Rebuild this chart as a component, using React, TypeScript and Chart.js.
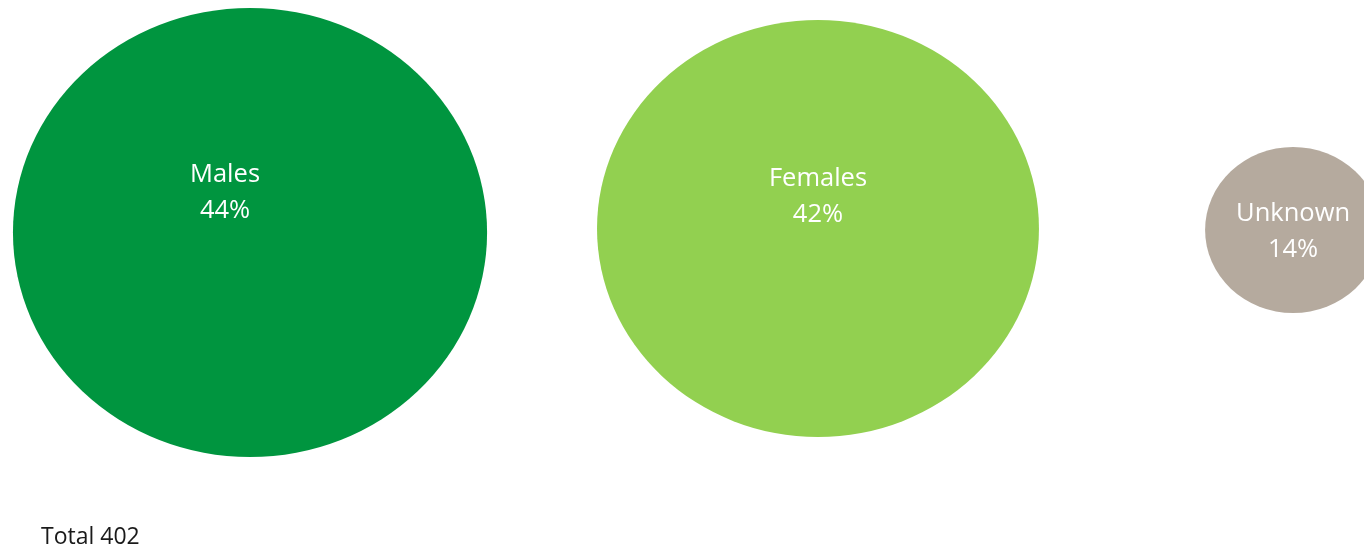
import React, { useEffect, useRef } from "react";
import { Chart, registerables } from "chart.js";

Chart.register(...registerables);

// ---- Data ----
const categories = ["Males", "Females", "Unknown"];
const percentages = [44, 42, 14];
const totalCount = 402;
// bubble centres (data units on hidden 0-100 axes)
const bubbleX = [18.33, 59.97, 94.8];
const bubbleY = [57.65, 58.38, 58.11];
// bubble radii in data units of each axis
const radiusX = [17.38, 16.2, 6.45];
const radiusY = [40.89, 37.98, 15.12];

// ---- Styles ----
const colors = ["#00953F", "#92D050", "#B5AA9E"];
// label anchor (first baseline) offsets from bubble centre, px
const labelOffsets = [
  [-25, -50.5],
  [0, -42.5],
  [0, -8.5],
];
const LABEL_FONT = '25.5px "Open Sans"';
const LABEL_LINE = 36;

const ellipsePlugin = {
  id: "ellipseBubbles",
  afterDatasetsDraw(chart: any) {
    const { ctx } = chart;
    const xs = chart.scales.x;
    const ys = chart.scales.y;
    const meta = chart.getDatasetMeta(0);
    const ds = chart.data.datasets[0];
    meta.data.forEach((pt: any, i: number) => {
      const raw = ds.data[i];
      const cx = pt.x;
      const cy = pt.y;
      const rx = Math.abs(xs.getPixelForValue(raw.x + raw.rx) - cx);
      const ry = Math.abs(ys.getPixelForValue(raw.y + raw.ry) - cy);
      ctx.save();
      ctx.beginPath();
      ctx.ellipse(cx, cy, rx, ry, 0, 0, Math.PI * 2);
      ctx.fillStyle = colors[i];
      ctx.fill();
      ctx.fillStyle = "#ffffff";
      ctx.font = LABEL_FONT;
      ctx.textAlign = "center";
      ctx.textBaseline = "alphabetic";
      const lx = cx + labelOffsets[i][0];
      const ly = cy + labelOffsets[i][1];
      ctx.fillText(categories[i], lx, ly);
      ctx.fillText(`${raw.pct}%`, lx, ly + LABEL_LINE);
      ctx.restore();
    });
    // total note
    ctx.save();
    ctx.fillStyle = "#1a1a1a";
    ctx.font = '23px "Open Sans"';
    ctx.textAlign = "left";
    ctx.textBaseline = "alphabetic";
    ctx.fillText(`Total ${totalCount}`, 41, 544);
    ctx.restore();
  },
};

export default function App() {
  const ref = useRef<HTMLCanvasElement | null>(null);
  useEffect(() => {
    document.body.style.margin = "0";
    const canvas = ref.current!;
    const chart = new Chart(canvas, {
      type: "scatter",
      data: {
        datasets: [
          {
            label: "Gender",
            data: categories.map((c, i) => ({
              x: bubbleX[i],
              y: bubbleY[i],
              rx: radiusX[i],
              ry: radiusY[i],
              pct: percentages[i],
            })) as any,
            pointRadius: 0,
            pointHoverRadius: 0,
          },
        ],
      },
      options: {
        animation: false,
        responsive: false,
        events: [],
        layout: { padding: 0 },
        plugins: {
          legend: { display: false },
          tooltip: { enabled: false },
          title: { display: false },
        },
        scales: {
          x: { type: "linear", min: 0, max: 100, display: false },
          y: { type: "linear", min: 0, max: 100, display: false },
        },
      },
      plugins: [ellipsePlugin],
    });
    return () => chart.destroy();
  }, []);
  return (
    <div style={{ width: 1364, height: 549, overflow: "hidden" }}>
      <canvas ref={ref} width={1364} height={549} style={{ display: "block" }} />
    </div>
  );
}
